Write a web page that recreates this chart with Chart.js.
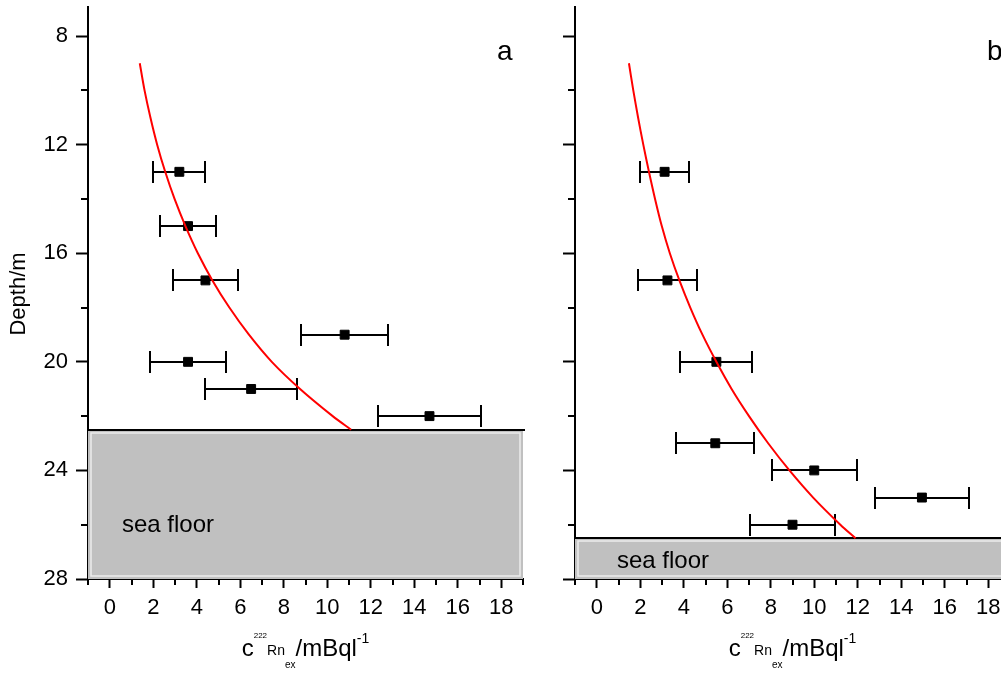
<!DOCTYPE html>
<html>
<head>
<meta charset="utf-8">
<script src="https://cdn.jsdelivr.net/npm/chart.js@4.4.1/dist/chart.umd.min.js"></script>
<style>
	html, body { margin: 0; padding: 0; background: #fff; overflow: hidden; width: 1001px; height: 673px; }
	canvas { position: absolute; top: 0; }
	#chart-a { left: 0; }
	#chart-b { left: 540px; }
</style>
</head>
<body>
<canvas id="chart-a" width="560" height="673"></canvas>
<canvas id="chart-b" width="520" height="673"></canvas>
<script>
// axis ticks
const xTicks = [0, 2, 4, 6, 8, 10, 12, 14, 16, 18];
const xMinorTicks = [-1, 1, 3, 5, 7, 9, 11, 13, 15, 17, 19];
const yTicks = [8, 12, 16, 20, 24, 28];
const yMinorTicks = [10, 14, 18, 22, 26];

// panel a: measured 222Rn excess (depth in m, conc in mBq/l)
const depthA = [13, 15, 17, 19, 20, 21, 22];
const concA = [3.2, 3.6, 4.4, 10.8, 3.6, 6.5, 14.7];
const errA = [1.2, 1.3, 1.5, 2.0, 1.75, 2.1, 2.35];
// panel a: fitted profile
const fitDepthA = [9, 10, 11, 12, 13, 14, 15, 16, 17, 18, 19, 20, 21, 22, 22.5];
const fitConcA = [1.38, 1.6, 1.87, 2.18, 2.55, 2.98, 3.48, 4.05, 4.72, 5.5, 6.4, 7.45, 8.75, 10.25, 11.1];
const seaFloorA = 22.5;

// panel b
const depthB = [13, 17, 20, 23, 24, 25, 26];
const concB = [3.12, 3.25, 5.5, 5.45, 10.0, 14.95, 9.0];
const errB = [1.12, 1.35, 1.65, 1.8, 1.95, 2.15, 1.95];
const fitDepthB = [9, 10, 11, 12, 13, 14, 15, 16, 17, 18, 19, 20, 21, 22, 23, 24, 25, 26, 26.5];
const fitConcB = [1.48, 1.68, 1.9, 2.14, 2.4, 2.68, 2.99, 3.36, 3.8, 4.3, 4.86, 5.5, 6.2, 7.0, 7.88, 8.86, 9.95, 11.2, 11.9];
const seaFloorB = 26.5;

Chart.defaults.font.family = '"Liberation Sans", Arial, sans-serif';
Chart.defaults.color = '#000';

function make_panel(canvas_id, opts) {
	const points = opts.depth.map((d, i) => ({x: opts.conc[i], y: d}));
	const fit = opts.fitDepth.map((d, i) => ({x: opts.fitConc[i], y: d}));

	const decor = {
		id: 'decor',
		beforeDatasetsDraw(chart) {
			const ctx = chart.ctx;
			const area = chart.chartArea;
			const xs = chart.scales.x, ys = chart.scales.y;
			// sea floor block
			const top = Math.round(ys.getPixelForValue(opts.seaFloor));
			ctx.save();
			ctx.fillStyle = '#c0c0c0';
			ctx.fillRect(area.left, top, area.right - area.left, area.bottom - top);
			ctx.strokeStyle = '#ececec';
			ctx.lineWidth = 1.5;
			ctx.strokeRect(area.left + 3, top + 3, area.right - area.left - 6, area.bottom - top - 6);
			ctx.strokeStyle = '#000';
			ctx.lineWidth = 2;
			ctx.beginPath();
			ctx.moveTo(area.left, top);
			ctx.lineTo(area.right + 2, top);
			ctx.stroke();
			ctx.fillStyle = '#000';
			ctx.font = '24px "Liberation Sans", Arial, sans-serif';
			ctx.textBaseline = 'alphabetic';
			ctx.textAlign = 'left';
			ctx.fillText('sea floor', area.left + opts.floorLabel[0], opts.floorLabel[1]);

			// horizontal error bars
			ctx.beginPath();
			opts.depth.forEach((d, i) => {
				const py = Math.round(ys.getPixelForValue(d));
				const x1 = Math.round(xs.getPixelForValue(opts.conc[i] - opts.err[i]));
				const x2 = Math.round(xs.getPixelForValue(opts.conc[i] + opts.err[i]));
				ctx.moveTo(x1, py); ctx.lineTo(x2, py);
				ctx.moveTo(x1, py - 11); ctx.lineTo(x1, py + 11);
				ctx.moveTo(x2, py - 11); ctx.lineTo(x2, py + 11);
			});
			ctx.stroke();
			ctx.restore();
		},
		afterDraw(chart) {
			const ctx = chart.ctx;
			const area = chart.chartArea;
			const xs = chart.scales.x, ys = chart.scales.y;
			ctx.save();
			ctx.strokeStyle = '#000';
			ctx.lineWidth = 2;
			ctx.beginPath();
			xMinorTicks.forEach(v => {
				const px = Math.round(xs.getPixelForValue(v));
				ctx.moveTo(px, area.bottom); ctx.lineTo(px, area.bottom + 6);
			});
			yMinorTicks.forEach(v => {
				const py = Math.round(ys.getPixelForValue(v));
				ctx.moveTo(area.left, py); ctx.lineTo(area.left - 7, py);
			});
			ctx.stroke();

			// panel letter
			ctx.fillStyle = '#000';
			ctx.textAlign = 'left';
			ctx.textBaseline = 'alphabetic';
			ctx.font = '28px "Liberation Sans", Arial, sans-serif';
			ctx.fillText(opts.letter, area.left + opts.letterPos[0], opts.letterPos[1]);

			// x axis title: c(222Rn ex) / mBq l-1
			const parts = [
				{t: 'c', size: 24, dy: 0},
				{t: '222', size: 8, dy: -18},
				{t: 'Rn', size: 14, dy: -1},
				{t: 'ex', size: 10, dy: 12},
				{t: '/mBql', size: 24, dy: 0},
				{t: '-1', size: 14, dy: -13}
			];
			let total = 0;
			parts.forEach(p => {
				ctx.font = p.size + 'px "Liberation Sans", Arial, sans-serif';
				p.w = ctx.measureText(p.t).width;
				total += p.w;
			});
			let cx = (area.left + area.right) / 2 - total / 2;
			parts.forEach(p => {
				ctx.font = p.size + 'px "Liberation Sans", Arial, sans-serif';
				ctx.fillText(p.t, cx, 656 + p.dy);
				cx += p.w;
			});

			if (opts.yTitle) {
				ctx.translate(19, 294);
				ctx.rotate(-Math.PI / 2);
				ctx.textAlign = 'center';
				ctx.textBaseline = 'middle';
				ctx.font = '22px "Liberation Sans", Arial, sans-serif';
				ctx.fillText(opts.yTitle, 0, 0);
			}
			ctx.restore();
		}
	};

	return new Chart(document.getElementById(canvas_id), {
		type: 'scatter',
		data: {
			datasets: [
				{
					label: 'fit',
					data: fit,
					showLine: true,
					borderColor: '#ff0000',
					borderWidth: 2,
					pointRadius: 0,
					tension: 0.3,
					fill: false
				},
				{
					label: 'measured',
					data: points,
					pointStyle: 'rect',
					pointRadius: 6.3,
					pointBackgroundColor: '#000',
					pointBorderColor: '#000',
					pointBorderWidth: 1
				}
			]
		},
		options: {
			responsive: false,
			animation: false,
			devicePixelRatio: 1,
			layout: {padding: {left: 0, right: opts.padRight, top: 7, bottom: 0}},
			plugins: {legend: {display: false}, tooltip: {enabled: false}},
			scales: {
				x: {
					type: 'linear',
					min: -1,
					max: 19,
					bounds: 'data',
					afterBuildTicks: s => { s.ticks = xTicks.map(v => ({value: v})); },
					afterFit: s => { s.height = 94; s.paddingLeft = 0; s.paddingRight = 0; },
					border: {display: true, color: '#000', width: 2},
					grid: {display: true, drawOnChartArea: false, drawTicks: true, tickLength: 9, tickWidth: 2, tickColor: '#000', color: '#000'},
					ticks: {color: '#000', font: {size: 22}, padding: 7, maxRotation: 0, autoSkip: false}
				},
				y: {
					type: 'linear',
					reverse: true,
					min: 6.94,
					max: 28,
					bounds: 'data',
					afterBuildTicks: s => { s.ticks = yTicks.map(v => ({value: v})); },
					afterFit: s => { s.width = opts.yWidth; s.paddingTop = 0; s.paddingBottom = 0; },
					border: {display: true, color: '#000', width: 2},
					grid: {display: true, drawOnChartArea: false, drawTicks: true, tickLength: 12, tickWidth: 2, tickColor: '#000', color: '#000'},
					ticks: {color: '#000', font: {size: 22}, padding: 8, display: opts.yLabels, autoSkip: false}
				}
			}
		},
		plugins: [decor]
	});
}

make_panel('chart-a', {
	depth: depthA, conc: concA, err: errA,
	fitDepth: fitDepthA, fitConc: fitConcA, seaFloor: seaFloorA,
	yWidth: 88, padRight: 37, yLabels: true, yTitle: 'Depth/m',
	letter: 'a', letterPos: [409, 60], floorLabel: [34, 532]
});

make_panel('chart-b', {
	depth: depthB, conc: concB, err: errB,
	fitDepth: fitDepthB, fitConc: fitConcB, seaFloor: seaFloorB,
	yWidth: 35, padRight: 50, yLabels: false, yTitle: null,
	letter: 'b', letterPos: [412, 60], floorLabel: [42, 568]
});
</script>
</body>
</html>
